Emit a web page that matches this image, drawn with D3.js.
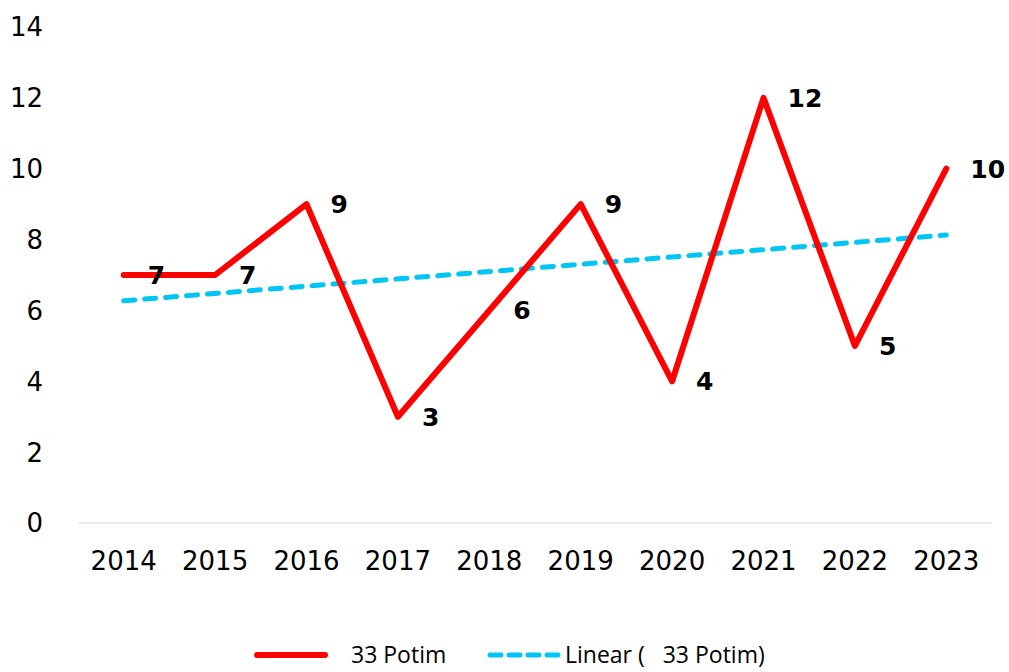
<!DOCTYPE html>
<html>
<head>
<meta charset="utf-8">
<script src="https://cdn.jsdelivr.net/npm/d3@7"></script>
<style>
  body { margin: 0; background: #fff; }
  text { font-family: "DejaVu Sans", Verdana, sans-serif; }
</style>
</head>
<body>
<div id="vis"></div>
<script>
(function() {
    var width = 1009,
        height = 672;

    // chart data
    var years = ["2014", "2015", "2016", "2017", "2018", "2019", "2020", "2021", "2022", "2023"];
    var values = [7, 7, 9, 3, 6, 9, 4, 12, 5, 10];
    var yTicks = [0, 2, 4, 6, 8, 10, 12, 14];
    var seriesName = "33 Potim";
    var trendName = "Linear (   33 Potim)";

    var margin = {left: 78, right: 17, top: 27, bottom: 149};

    var svg = d3.select("#vis")
        .append("svg")
        .attr("width", width)
        .attr("height", height);

    var x = d3.scaleBand().domain(years).range([margin.left, width - margin.right]);
    var y = d3.scaleLinear().domain([0, 14]).range([height - margin.bottom, margin.top]);

    function cx(d) { return x(d) + x.bandwidth() / 2; }

    // baseline
    svg.append("line")
        .attr("x1", margin.left).attr("x2", width - margin.right)
        .attr("y1", y(0)).attr("y2", y(0))
        .attr("stroke", "#e6e6e6").attr("stroke-width", 1.5);

    // y labels
    svg.selectAll(".ylab")
        .data(yTicks)
        .enter().append("text")
        .attr("class", "ylab")
        .attr("x", 43)
        .attr("y", function(d) { return y(d); })
        .attr("dy", "0.36em")
        .attr("text-anchor", "end")
        .style("font-size", "26px")
        .attr("fill", "#000")
        .text(function(d) { return d; });

    // x labels
    svg.selectAll(".xlab")
        .data(years)
        .enter().append("text")
        .attr("class", "xlab")
        .attr("x", cx)
        .attr("y", 570)
        .attr("text-anchor", "middle")
        .style("font-size", "26px")
        .attr("fill", "#000")
        .text(function(d) { return d; });

    // linear trend (least squares)
    var n = values.length;
    var mx = d3.mean(values, function(d, i) { return i; });
    var my = d3.mean(values);
    var sxy = d3.sum(values, function(d, i) { return (i - mx) * (d - my); });
    var sxx = d3.sum(values, function(d, i) { return (i - mx) * (i - mx); });
    var slope = sxy / sxx;
    var icpt = my - slope * mx;
    var trend = [0, n - 1].map(function(i) { return {year: years[i], v: icpt + slope * i}; });

    svg.append("path")
        .datum(trend)
        .attr("d", d3.line().x(function(d) { return cx(d.year); }).y(function(d) { return y(d.v); }))
        .attr("fill", "none")
        .attr("stroke", "#00c5f5")
        .attr("stroke-width", 5)
        .attr("stroke-linecap", "round")
        .attr("stroke-dasharray", "11,10");

    // main series
    svg.append("path")
        .datum(values)
        .attr("d", d3.line().x(function(d, i) { return cx(years[i]); }).y(function(d) { return y(d); }))
        .attr("fill", "none")
        .attr("stroke", "#ff0000")
        .attr("stroke-width", 6)
        .attr("stroke-linecap", "round")
        .attr("stroke-linejoin", "round");

    // data labels
    svg.selectAll(".dlab")
        .data(values)
        .enter().append("text")
        .attr("class", "dlab")
        .attr("x", function(d, i) { return cx(years[i]) + 24; })
        .attr("y", function(d) { return y(d); })
        .attr("dy", "0.36em")
        .style("font-size", "25px")
        .style("font-weight", "bold")
        .attr("fill", "#000")
        .text(function(d) { return d; });

    // legend
    var lg = svg.append("g").attr("transform", "translate(0,655)");
    lg.append("line")
        .attr("x1", 257).attr("x2", 325)
        .attr("stroke", "#ff0000").attr("stroke-width", 6).attr("stroke-linecap", "round");
    lg.append("text")
        .attr("x", 351).attr("dy", "0.36em")
        .style("font-family", "'Open Sans', sans-serif")
        .style("font-size", "23px")
        .text(seriesName);
    lg.append("line")
        .attr("x1", 490).attr("x2", 558)
        .attr("stroke", "#00c5f5").attr("stroke-width", 5).attr("stroke-linecap", "round")
        .attr("stroke-dasharray", "11,8");
    lg.append("text")
        .attr("x", 565).attr("dy", "0.36em")
        .style("font-family", "'Open Sans', sans-serif")
        .style("font-size", "23px")
        .style("white-space", "pre")
        .text(trendName);
})();
</script>
</body>
</html>
